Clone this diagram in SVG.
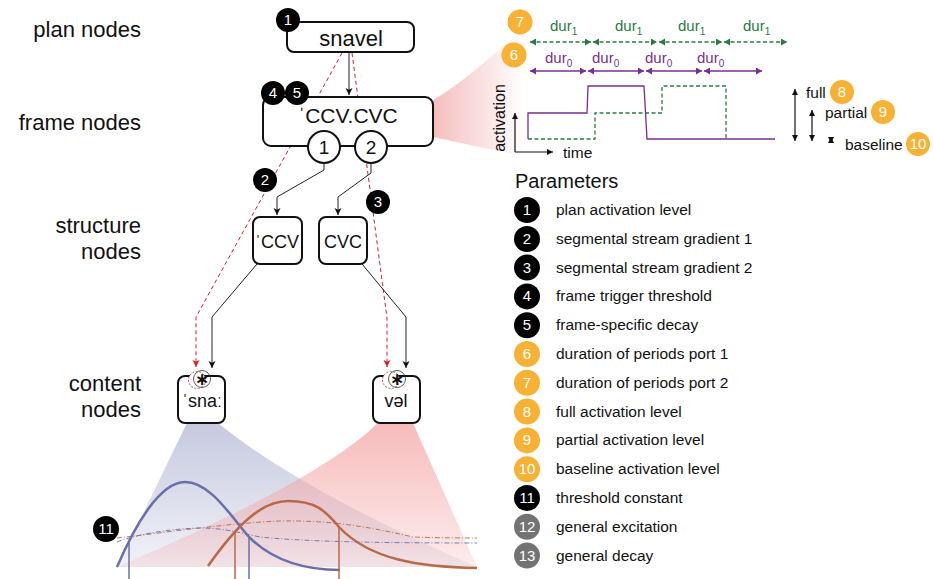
<svg xmlns="http://www.w3.org/2000/svg" width="933" height="579" viewBox="0 0 933 579">
<defs>
<style>
text{font-family:"Liberation Sans",Arial,sans-serif}
.lab{font-size:22px;fill:#111;text-anchor:end}
.node{fill:#fff;stroke:#111;stroke-width:2}
.nt{text-anchor:middle;fill:#111}
.ast{text-anchor:middle;fill:#111;font-family:"DejaVu Sans",sans-serif;font-weight:bold;font-size:17px}
.conn{fill:none;stroke:#222;stroke-width:1}
.red{fill:none;stroke:#d0202a;stroke-width:1;stroke-dasharray:4 3}
.bk{fill:#000}
.bo{fill:#f7b134}
.bg{fill:#737373}
.bt{fill:#fff;font-size:15px;text-anchor:middle}
.ptxt{font-size:15.5px;fill:#111}
.gr{fill:none;stroke:#2b7a46;stroke-width:1.3;stroke-dasharray:4 2.5}
.pu{fill:none;stroke:#7a2f8f;stroke-width:1.3}
.gtx{fill:#2b7a46;font-size:15px}
.ptx{fill:#7a2f8f;font-size:15px}
.sub{font-size:10px}
.ax{fill:none;stroke:#111;stroke-width:1.2}
</style>
<marker id="ah" markerWidth="9" markerHeight="9" refX="7" refY="4" orient="auto" markerUnits="userSpaceOnUse"><path d="M0,0.5 L7,4 L0,7.5 L1.8,4 Z" fill="#111"/></marker>
<marker id="ahr" markerWidth="9" markerHeight="9" refX="7" refY="4" orient="auto" markerUnits="userSpaceOnUse"><path d="M0,0.5 L7,4 L0,7.5 L1.8,4 Z" fill="#d0202a"/></marker>
<marker id="ahg" markerWidth="8" markerHeight="8" refX="6" refY="3.5" orient="auto-start-reverse" markerUnits="userSpaceOnUse"><path d="M0,0 L6,3.5 L0,7 Z" fill="#2b7a46"/></marker>
<marker id="ahp" markerWidth="8" markerHeight="8" refX="6" refY="3.5" orient="auto-start-reverse" markerUnits="userSpaceOnUse"><path d="M0,0 L6,3.5 L0,7 Z" fill="#7a2f8f"/></marker>
<marker id="ahk" markerWidth="8" markerHeight="8" refX="6" refY="3" orient="auto-start-reverse" markerUnits="userSpaceOnUse"><path d="M0,0 L6,3 L0,6 Z" fill="#111"/></marker>
<linearGradient id="gTime" x1="433" y1="0" x2="525" y2="0" gradientUnits="userSpaceOnUse"><stop offset="0" stop-color="#f2a8a8" stop-opacity="0.75"/><stop offset="1" stop-color="#f2a8a8" stop-opacity="0"/></linearGradient>
<linearGradient id="gBlue" x1="0" y1="423" x2="0" y2="567" gradientUnits="userSpaceOnUse"><stop offset="0" stop-color="#b8bcd8" stop-opacity="0.8"/><stop offset="1" stop-color="#b8bcd8" stop-opacity="0.2"/></linearGradient>
<linearGradient id="gRed" x1="0" y1="423" x2="0" y2="567" gradientUnits="userSpaceOnUse"><stop offset="0" stop-color="#f4a4a4" stop-opacity="0.75"/><stop offset="1" stop-color="#f4a4a4" stop-opacity="0.2"/></linearGradient>
</defs>

<g id="labels">
<text class="lab" x="141" y="37">plan nodes</text>
<text class="lab" x="141" y="130">frame nodes</text>
<text class="lab" x="141" y="233">structure</text>
<text class="lab" x="141" y="259">nodes</text>
<text class="lab" x="141" y="391">content</text>
<text class="lab" x="141" y="417">nodes</text>
</g>

<g id="wedges">
<path d="M433,100 C462,84 490,56 520,33 L522,156 L433,137 Z" fill="url(#gTime)"/>
<path d="M187,423 L218,423 Q300,490 477,567 L117,567 Z" fill="url(#gBlue)"/>
<path d="M378,423 L413,423 L477,567 L117,567 Q320,480 378,423 Z" fill="url(#gRed)"/>
</g>

<g id="connectors">
<path class="red" d="M342,53 L196,317 L196,367" marker-end="url(#ahr)"/>
<path class="red" d="M352,53 L387,318 L387,367" marker-end="url(#ahr)"/>
<path class="conn" d="M349,52 L349,95" marker-end="url(#ah)"/>
<path class="conn" d="M324,163 L324,170 L277,197 L277,215" marker-end="url(#ah)"/>
<path class="conn" d="M371,163 L371,173 L338,197 L338,215" marker-end="url(#ah)"/>
<path class="conn" d="M257,264 L212,317 L212,368" marker-end="url(#ah)"/>
<path class="conn" d="M362,264 L406,317 L406,368" marker-end="url(#ah)"/>
</g>

<g id="plan-snavel">
<rect class="node" x="287" y="22" width="127" height="30" rx="7"/>
<text class="nt" x="351" y="46" font-size="22">snavel</text>
</g>

<g id="frame-node">
<rect class="node" x="263" y="97" width="170" height="49" rx="8"/>
<text class="nt" x="348" y="123" font-size="21">ˈCCV.CVC</text>
<circle class="node" cx="324" cy="147" r="16"/>
<text class="nt" x="324" y="154" font-size="19">1</text>
<circle class="node" cx="371" cy="147" r="16"/>
<text class="nt" x="371" y="154" font-size="19">2</text>
</g>

<g id="structure-CCV">
<rect class="node" x="253" y="217" width="49" height="47" rx="7"/>
<text class="nt" x="277" y="248" font-size="18">ˈCCV</text>
</g>
<g id="structure-CVC">
<rect class="node" x="319" y="217" width="48" height="47" rx="7"/>
<text class="nt" x="343" y="248" font-size="18">CVC</text>
</g>

<g id="content-snaa">
<rect class="node" x="178" y="376" width="47" height="47" rx="7"/>
<circle cx="197" cy="380" r="8.5" fill="#fff" stroke="#d0202a" stroke-width="0.8" stroke-dasharray="2 1.5"/>
<circle cx="202" cy="379" r="8.5" fill="none" stroke="#333" stroke-width="0.8"/>
<text class="ast" x="202" y="385">∗</text>
<text class="nt" x="202" y="407" font-size="18">ˈsnaː</text>
</g>
<g id="content-vel">
<rect class="node" x="373" y="376" width="47" height="47" rx="7"/>
<circle cx="391" cy="380" r="8.5" fill="#fff" stroke="#d0202a" stroke-width="0.8" stroke-dasharray="2 1.5"/>
<circle cx="397" cy="379" r="8.5" fill="none" stroke="#333" stroke-width="0.8"/>
<text class="ast" x="397" y="385">∗</text>
<text class="nt" x="396" y="407" font-size="18">vəl</text>
</g>

<g id="curves">
<path d="M117,542 C130,537 160,529 200,528 C225,528 240,533 260,537 C300,541 360,543 477,543" fill="none" stroke="#6a6fa8" stroke-width="0.9" stroke-dasharray="5 2 1 2"/>
<path d="M117,538 C170,532 230,523 280,521 C330,520 370,527 413,537 C440,538 460,538 477,538" fill="none" stroke="#b8694a" stroke-width="0.9" stroke-dasharray="5 2 1 2"/>
<path d="M117,567 C135,525 160,482 185,482 C210,482 230,515 249,537 C275,563 310,570 340,570" fill="none" stroke="#6a6fa8" stroke-width="2.5"/>
<path d="M208,566 C235,528 260,501 288,501 C315,501 325,510 339,527 C370,560 420,567 477,568" fill="none" stroke="#b8694a" stroke-width="2.5"/>
<line x1="129" y1="542" x2="129" y2="579" stroke="#6a6fa8" stroke-width="1.5"/>
<line x1="249" y1="537" x2="249" y2="579" stroke="#6a6fa8" stroke-width="1.5"/>
<line x1="235" y1="532" x2="235" y2="579" stroke="#b8694a" stroke-width="1.5"/>
<line x1="339" y1="527" x2="339" y2="579" stroke="#b8694a" stroke-width="1.5"/>
</g>

<g id="timing">
<path class="gr" d="M530,42 L591,42" marker-start="url(#ahg)" marker-end="url(#ahg)"/>
<path class="gr" d="M593,42 L657,42" marker-start="url(#ahg)" marker-end="url(#ahg)"/>
<path class="gr" d="M659,42 L722,42" marker-start="url(#ahg)" marker-end="url(#ahg)"/>
<path class="gr" d="M724,42 L787,42" marker-start="url(#ahg)" marker-end="url(#ahg)"/>
<text class="gtx" x="550" y="31">dur<tspan class="sub" dy="4">1</tspan></text>
<text class="gtx" x="615" y="31">dur<tspan class="sub" dy="4">1</tspan></text>
<text class="gtx" x="678" y="31">dur<tspan class="sub" dy="4">1</tspan></text>
<text class="gtx" x="743" y="31">dur<tspan class="sub" dy="4">1</tspan></text>
<path class="pu" d="M530,71 L586,71" marker-start="url(#ahp)" marker-end="url(#ahp)"/>
<path class="pu" d="M588,71 L644,71" marker-start="url(#ahp)" marker-end="url(#ahp)"/>
<path class="pu" d="M646,71 L702,71" marker-start="url(#ahp)" marker-end="url(#ahp)"/>
<path class="pu" d="M704,71 L762,71" marker-start="url(#ahp)" marker-end="url(#ahp)"/>
<text class="ptx" x="545" y="63">dur<tspan class="sub" dy="4">0</tspan></text>
<text class="ptx" x="592" y="63">dur<tspan class="sub" dy="4">0</tspan></text>
<text class="ptx" x="645" y="63">dur<tspan class="sub" dy="4">0</tspan></text>
<text class="ptx" x="697" y="63">dur<tspan class="sub" dy="4">0</tspan></text>
<path class="ax" d="M515,152 L515,113" marker-end="url(#ahk)"/>
<path class="ax" d="M515,152 L553,152" marker-end="url(#ahk)"/>
<text x="563" y="158" font-size="15.5" fill="#111">time</text>
<text transform="translate(505,118) rotate(-90)" text-anchor="middle" font-size="16" fill="#111">activation</text>
<path d="M528,139 L595,139 L595,113 L662,113 L662,86 L726,86 L726,139" fill="none" stroke="#2b7a46" stroke-width="1.3" stroke-dasharray="4 2.5"/>
<path class="pu" d="M528,139 L528,113 L587,113 L588,86 L644,86 L647,139 L775,139"/>
<path class="ax" d="M795,89 L795,141" marker-start="url(#ahk)" marker-end="url(#ahk)" stroke-width="1"/>
<path class="ax" d="M812,110 L812,141" marker-start="url(#ahk)" marker-end="url(#ahk)" stroke-width="1"/>
<path class="ax" d="M831,137 L831,143" marker-start="url(#ahk)" marker-end="url(#ahk)" stroke-width="1"/>
<text x="806" y="98" font-size="15.5" fill="#111">full</text>
<text x="825" y="118" font-size="15.5" fill="#111">partial</text>
<text x="845" y="150" font-size="15.5" fill="#111">baseline</text>
</g>

<g id="badges">
<circle class="bk" cx="288" cy="20" r="12"/><text class="bt" x="288" y="25">1</text>
<circle class="bk" cx="273" cy="93" r="12"/><text class="bt" x="273" y="98">4</text>
<circle class="bk" cx="297" cy="93" r="12"/><text class="bt" x="297" y="98">5</text>
<circle class="bk" cx="265" cy="180" r="12"/><text class="bt" x="265" y="185">2</text>
<circle class="bk" cx="378" cy="202" r="12"/><text class="bt" x="378" y="207">3</text>
<circle class="bk" cx="106" cy="529" r="13"/><text class="bt" x="106" y="534">11</text>
<circle class="bo" cx="520" cy="22" r="12.5"/><text class="bt" x="520" y="27">7</text>
<circle class="bo" cx="514" cy="55" r="12.5"/><text class="bt" x="514" y="60">6</text>
<circle class="bo" cx="842" cy="92" r="12"/><text class="bt" x="842" y="97">8</text>
<circle class="bo" cx="883" cy="112" r="12"/><text class="bt" x="883" y="117">9</text>
<circle class="bo" cx="918" cy="144" r="12"/><text class="bt" x="918" y="149">10</text>
</g>

<g id="legend">
<text x="515" y="188" font-size="20" fill="#111">Parameters</text>
<circle class="bk" cx="527" cy="210" r="13"/><text class="bt" x="527" y="215">1</text><text class="ptxt" x="556" y="215">plan activation level</text>
<circle class="bk" cx="527" cy="239" r="13"/><text class="bt" x="527" y="244">2</text><text class="ptxt" x="556" y="244">segmental stream gradient 1</text>
<circle class="bk" cx="527" cy="267.6" r="13"/><text class="bt" x="527" y="272.6">3</text><text class="ptxt" x="556" y="272.6">segmental stream gradient 2</text>
<circle class="bk" cx="527" cy="296.4" r="13"/><text class="bt" x="527" y="301.4">4</text><text class="ptxt" x="556" y="301.4">frame trigger threshold</text>
<circle class="bk" cx="527" cy="325.2" r="13"/><text class="bt" x="527" y="330.2">5</text><text class="ptxt" x="556" y="330.2">frame-specific decay</text>
<circle class="bo" cx="527" cy="354" r="13"/><text class="bt" x="527" y="359">6</text><text class="ptxt" x="556" y="359">duration of periods port 1</text>
<circle class="bo" cx="527" cy="382.8" r="13"/><text class="bt" x="527" y="387.8">7</text><text class="ptxt" x="556" y="387.8">duration of periods port 2</text>
<circle class="bo" cx="527" cy="411.6" r="13"/><text class="bt" x="527" y="416.6">8</text><text class="ptxt" x="556" y="416.6">full activation level</text>
<circle class="bo" cx="527" cy="440.4" r="13"/><text class="bt" x="527" y="445.4">9</text><text class="ptxt" x="556" y="445.4">partial activation level</text>
<circle class="bo" cx="527" cy="469.2" r="13"/><text class="bt" x="527" y="474.2">10</text><text class="ptxt" x="556" y="474.2">baseline activation level</text>
<circle class="bk" cx="527" cy="498" r="13"/><text class="bt" x="527" y="503">11</text><text class="ptxt" x="556" y="503">threshold constant</text>
<circle class="bg" cx="527" cy="526.8" r="13"/><text class="bt" x="527" y="531.8">12</text><text class="ptxt" x="556" y="531.8">general excitation</text>
<circle class="bg" cx="527" cy="555.6" r="13"/><text class="bt" x="527" y="560.6">13</text><text class="ptxt" x="556" y="560.6">general decay</text>
</g>
</svg>
